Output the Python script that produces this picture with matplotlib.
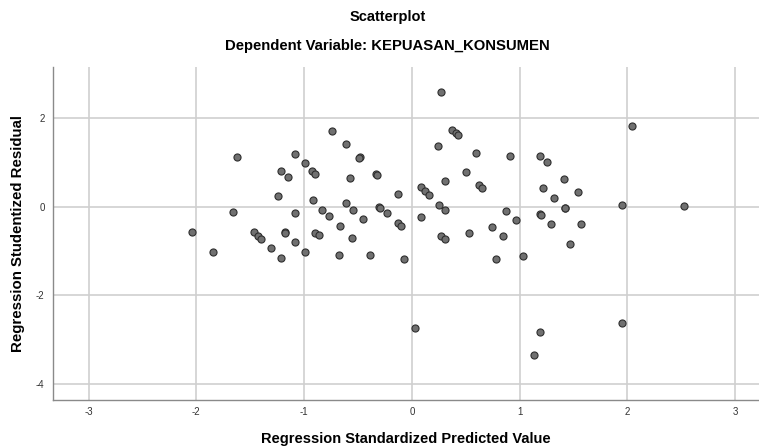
import matplotlib
matplotlib.use("Agg")
from matplotlib import pyplot as plt
import numpy as np

plt.rcParams['font.family'] = ['Liberation Sans', 'DejaVu Sans']
plt.rcParams['axes.unicode_minus'] = False

# standardized predicted value (x) and studentized residual (y)
pred = [-2.038, -1.846, -1.658, -1.621, -1.466, -1.431, -1.398, -1.308, -1.246, -1.212,
        -1.212, -1.181, -1.175, -1.153, -1.085, -1.085, -1.085, -0.995, -0.993, -0.928,
        -0.900, -0.921, -0.897, -0.863, -0.832, -0.773, -0.739, -0.671, -0.674, -0.615,
        -0.615, -0.578, -0.550, -0.554, -0.480, -0.489, -0.457, -0.392, -0.334, -0.322,
        -0.306, -0.294, -0.232, -0.133, -0.133, -0.105, -0.071, 0.028, 0.083, 0.118,
        0.155, 0.083, 0.244, 0.250, 0.272, 0.269, 0.306, 0.306, 0.309, 0.371,
        0.405, 0.427, 0.498, 0.526, 0.594, 0.622, 0.652, 0.745, 0.776, 0.841,
        0.872, 0.912, 0.968, 1.032, 1.132, 1.190, 1.190, 1.197, 1.190, 1.218,
        1.252, 1.289, 1.317, 1.413, 1.417, 1.424, 1.466, 1.540, 1.568, 1.948,
        1.951, 2.045, 2.520]
resid = [-0.570, -1.016, -0.124, 1.127, -0.570, -0.654, -0.735, -0.932, 0.238, 0.817,
         -1.158, -0.570, -0.593, 0.674, 1.188, -0.133, -0.796, 0.984, -1.016, 0.810,
         0.749, 0.147, -0.586, -0.645, -0.066, -0.201, 1.715, -0.434, -1.084, 1.421,
         0.093, 0.652, -0.066, -0.713, 1.133, 1.104, -0.283, -1.084, 0.742, 0.713,
         0.002, -0.020, -0.147, 0.290, -0.373, -0.434, -1.188, -2.735, 0.441, 0.357,
         0.274, -0.224, 1.376, 0.048, 2.604, -0.654, 0.577, -0.072, -0.735, 1.738,
         1.663, 1.618, 0.787, -0.593, 1.224, 0.493, 0.425, -0.450, -1.181, -0.667,
         -0.088, 1.149, -0.305, -1.113, -3.346, 1.149, -0.163, -0.186, -2.833, 0.432,
         1.020, -0.396, 0.199, 0.629, -0.020, -0.038, -0.835, 0.342, -0.396, 0.041,
         -2.629, 1.821, 0.025]

x_ticks = [-3, -2, -1, 0, 1, 2, 3]
y_ticks = [-4, -2, 0, 2]

fig = plt.figure(figsize=(7.59, 4.48), dpi=100)
ax = fig.add_axes([0.0698, 0.1071, 0.9302, 0.7433])

ax.scatter(pred, resid, s=26, color='#707070', edgecolors='#2e2e2e', linewidths=0.8, zorder=3)

ax.set_xlim(-3.33, 3.22)
ax.set_ylim(-4.37, 3.16)
ax.set_xticks(x_ticks)
ax.set_yticks(y_ticks)
ax.grid(True, color='#cfcfcf', linewidth=1.2)
ax.set_axisbelow(True)

for s in ['top', 'right']:
    ax.spines[s].set_visible(False)
for s in ['left', 'bottom']:
    ax.spines[s].set_color('#8a8a8a')
    ax.spines[s].set_linewidth(1.0)

ax.tick_params(length=0, labelsize=7, colors='#333333')
ax.tick_params(axis='x', pad=5)
ax.tick_params(axis='y', pad=6)

ax.set_xlabel('Regression Standardized Predicted Value', fontsize=10.5, fontweight='bold', labelpad=11)
ax.set_ylabel('Regression Studentized Residual', fontsize=10.8, fontweight='bold', labelpad=8)

fig.text(0.511, 0.961, 'Scatterplot', ha='center', va='center', fontsize=10.5, fontweight='bold')
fig.text(0.511, 0.898, 'Dependent Variable: KEPUASAN_KONSUMEN', ha='center', va='center',
         fontsize=10.7, fontweight='bold')

fig.savefig('out.png', dpi=100)
